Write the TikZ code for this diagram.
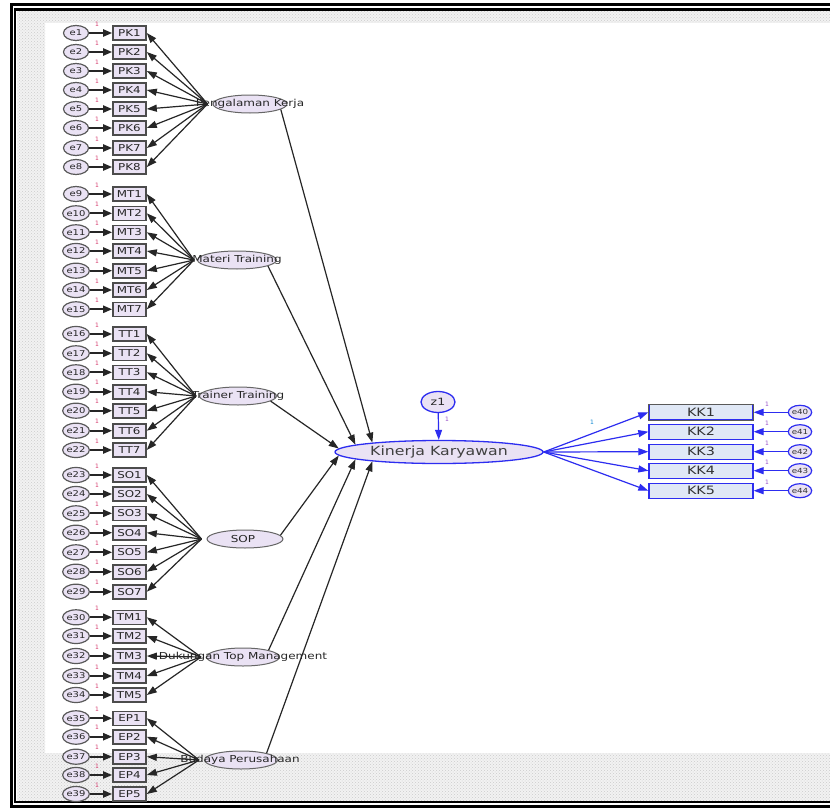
\documentclass[tikz,border=0pt]{standalone}
\usepackage{fontspec}
\setmainfont{DejaVu Sans}
\newfontfamily\wf[FakeStretch=1.25]{DejaVu Sans}
\usetikzlibrary{arrows.meta,shapes.geometric,patterns}
\definecolor{lav}{RGB}{234,226,244}
\definecolor{kkfill}{RGB}{224,232,246}
\definecolor{onered}{RGB}{214,60,110}
\definecolor{onepur}{RGB}{150,80,200}
\definecolor{ampblue}{RGB}{45,45,240}
\begin{document}
\begin{tikzpicture}[x=1pt,y=-1pt,
  err/.style={ellipse, draw=black!65, line width=1.2pt, fill=lav, minimum width=25pt, minimum height=15pt, inner sep=0pt, font=\wf\fontsize{8}{8}\selectfont, text=black!85},
  ind/.style={rectangle, draw=black!70, line width=1.6pt, fill=lav, minimum width=33pt, minimum height=14pt, inner sep=0pt, font=\wf\fontsize{9.5}{9.5}\selectfont, text=black!85},
  lat/.style={ellipse, draw=black!60, line width=1pt, fill=lav, minimum height=18pt, inner sep=0pt},
  latlab/.style={font=\wf\fontsize{9.6}{9.6}\selectfont, text=black!85, inner sep=0pt},
  onelab/.style={font=\fontsize{6}{6}\selectfont, text=onered, inner sep=0pt},
  arr/.style={-{Triangle[length=10pt,width=7pt]}, line width=1.2pt, draw=black!85},
  earr/.style={-{Triangle[length=9pt,width=7pt]}, line width=2pt, draw=black!85},
  barr/.style={-{Triangle[length=10pt,width=7pt]}, line width=1.2pt, draw=ampblue},
  kkb/.style={rectangle, draw=ampblue, line width=1.3pt, fill=kkfill, minimum width=104pt, minimum height=15pt, inner sep=0pt, font=\wf\fontsize{11.5}{11.5}\selectfont, text=black!80},
  kerr/.style={ellipse, draw=ampblue, line width=1.2pt, fill=lav, minimum width=20pt, minimum height=14pt, inner sep=0pt, font=\wf\fontsize{7}{7}\selectfont, text=black!80}
]
\useasboundingbox (0,0) rectangle (830,808);
\fill[white] (0,0) rectangle (830,808);
% patterned margins
\fill[black!5] (17,11) rectangle (45,802);
\fill[black!5] (45,11) rectangle (830,23);
\fill[black!5] (45,753) rectangle (830,802);
\fill[pattern=crosshatch dots, pattern color=black!20] (17,11) rectangle (45,802);
\fill[pattern=crosshatch dots, pattern color=black!20] (45,11) rectangle (830,23);
\fill[pattern=crosshatch dots, pattern color=black!20] (45,753) rectangle (830,802);
% frame
\draw[line width=3pt] (830,4.7) -- (11,4.7) -- (11,806) -- (830,806);
\draw[line width=2.4pt] (830,9.4) -- (15,9.4) -- (15,802) -- (830,802);

% ---------- group PK ----------
\node[lat, minimum width=74pt] (L1) at (250,104) {};
\node[latlab] (L1t) at (250,104) {Pengalaman Kerja};
\foreach \y [count=\i] in {33,52,71,90,109,128,148,167} {
  \node[ind] (PK\i) at (129.5,\y) {PK\i};
  \node[err] (eA\i) at (76,\y) {e\i};
  \draw[earr] (eA\i) -- (PK\i);
  \node[onelab] (oA\i) at (97,\y-9) {1};
  \draw[arr] ([xshift=-5pt]L1.west) -- (PK\i.east);
}
% ---------- group MT ----------
\node[lat, minimum width=79pt] (L2) at (237,260) {};
\node[latlab] (L2t) at (237,260) {Materi Training};
\foreach \y [count=\i] in {194,213.3,232.3,251,270.7,290,309.3} {
  \pgfmathtruncatemacro\k{\i+8}
  \node[ind] (MT\i) at (129.5,\y) {MT\i};
  \node[err] (eB\i) at (76,\y) {e\k};
  \draw[earr] (eB\i) -- (MT\i);
  \node[onelab] (oB\i) at (97,\y-9) {1};
  \draw[arr] ([xshift=-3pt]L2.west) -- (MT\i.east);
}
% ---------- group TT ----------
\node[lat, minimum width=77pt] (L3) at (238,396) {};
\node[latlab] (L3t) at (238,396) {Trainer Training};
\foreach \y [count=\i] in {334,353.3,372.3,391.7,410.7,430.7,450} {
  \pgfmathtruncatemacro\k{\i+15}
  \node[ind] (TT\i) at (129.5,\y) {TT\i};
  \node[err] (eC\i) at (76,\y) {e\k};
  \draw[earr] (eC\i) -- (TT\i);
  \node[onelab] (oC\i) at (97,\y-9) {1};
  \draw[arr] ([xshift=-3pt]L3.west) -- (TT\i.east);
}
% ---------- group SOP ----------
\node[lat, minimum width=76pt] (L4) at (245,539) {};
\node[latlab] (L4t) at (243,539) {SOP};
\foreach \y [count=\i] in {475,494,513.3,532.7,552.3,571.7,591.7} {
  \pgfmathtruncatemacro\k{\i+22}
  \node[ind] (SO\i) at (129.5,\y) {SO\i};
  \node[err] (eD\i) at (76,\y) {e\k};
  \draw[earr] (eD\i) -- (SO\i);
  \node[onelab] (oD\i) at (97,\y-9) {1};
  \draw[arr] ([xshift=-5pt]L4.west) -- (SO\i.east);
}
% ---------- group TM ----------
\node[lat, minimum width=73pt] (L5) at (243,657) {};
\node[latlab] (L5t) at (243,657) {Dukungan Top Management};
\foreach \y [count=\i] in {617.3,636,656,676,695} {
  \pgfmathtruncatemacro\k{\i+29}
  \node[ind] (TM\i) at (129.5,\y) {TM\i};
  \node[err] (eE\i) at (76,\y) {e\k};
  \draw[earr] (eE\i) -- (TM\i);
  \node[onelab] (oE\i) at (97,\y-9) {1};
  \draw[arr] ([xshift=-5pt]L5.west) -- (TM\i.east);
}
% ---------- group EP ----------
\node[lat, minimum width=73pt] (L6) at (241,760) {};
\node[latlab] (L6t) at (240,760) {Budaya Perusahaan};
\foreach \y [count=\i] in {718.3,736.7,756.7,775,794} {
  \pgfmathtruncatemacro\k{\i+34}
  \node[ind] (EP\i) at (129.5,\y) {EP\i};
  \node[err] (eF\i) at (76,\y) {e\k};
  \draw[earr] (eF\i) -- (EP\i);
  \node[onelab] (oF\i) at (97,\y-9) {1};
  \draw[arr] ([xshift=-5pt]L6.west) -- (EP\i.east);
}

% ---------- endogenous ----------
\node[ellipse, draw=ampblue, line width=1.3pt, fill=lav, minimum width=208pt, minimum height=23pt, inner sep=0pt,
      font=\wf\fontsize{12.6}{12.6}\selectfont, text=black!75] (K) at (439,452) {Kinerja Karyawan};
\node[ellipse, draw=ampblue, line width=1.3pt, fill=lav, minimum width=34pt, minimum height=21pt, inner sep=0pt,
      font=\wf\fontsize{10}{10}\selectfont, text=black!85] (z1) at (438,402) {z1};
\draw[barr] (z1) -- (K);
\node[font=\fontsize{6}{6}\selectfont, text=onepur, inner sep=0pt] (oz) at (447,419) {1};

\draw[arr] (L1.-10) -- (K.172);
\draw[arr] (L2.-11) -- (K.175);
\draw[arr] (L3.-9) -- (K.178);
\draw[arr] (L4.6) -- (K.182.5);
\draw[arr] (L5.15) -- (K.185.5);
\draw[arr] (L6.15) -- (K.188);

% ---------- right indicators ----------
\foreach \y [count=\i] in {412.3,431.7,451.7,470.7,490.7} {
  \pgfmathtruncatemacro\k{\i+39}
  \node[kkb] (KK\i) at (701,\y) {KK\i};
  \node[kerr] (eG\i) at (800,\y) {e\k};
  \draw[barr] (eG\i) -- (KK\i);
  \node[font=\fontsize{6}{6}\selectfont, text=onepur, inner sep=0pt] (oG\i) at (767,\y-8) {1};
  \draw[barr] (K.east) -- (KK\i.west);
}
\draw[draw=black!65, line width=1.3pt] (KK1.south west) rectangle (KK1.north east);
\node[font=\fontsize{6}{6}\selectfont, text=cyan!70!blue, inner sep=0pt] (oK) at (592,422) {1};
\end{tikzpicture}
\end{document}
